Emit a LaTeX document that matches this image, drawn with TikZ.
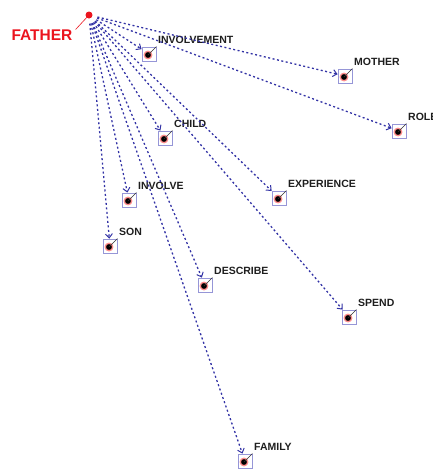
\documentclass[tikz,border=0pt]{standalone}
\usepackage{fontspec}
\setmainfont{Liberation Sans}
\usetikzlibrary{arrows.meta}
\definecolor{edgeblue}{RGB}{50,50,165}
\definecolor{boxlav}{RGB}{150,150,215}
\definecolor{lbltext}{RGB}{30,30,30}
\definecolor{fred}{RGB}{235,20,30}
\newcommand\tnode[4]{%
  \node[tbox] (#1) at (#2,#3) {};
  \node[tdot] (#1d) at (#2-1,#3+1) {};
  \draw[line width=0.5pt, black!80] (#1d.center) -- (#1.north east);
  \node[lbl] (#1l) at (#2+9,#3-14) {#4};
}
\begin{document}
\begin{tikzpicture}[x=1pt,y=-1pt,
  lbl/.style={font=\bfseries\fontsize{10.5}{12}\selectfont, text=lbltext, anchor=west, inner sep=0pt},
  tbox/.style={draw=boxlav, line width=0.8pt, minimum size=14pt, inner sep=0pt, fill=white},
  tdot/.style={circle, fill=black, draw=red!45, line width=1.3pt, minimum size=7.5pt, inner sep=0pt},
  link/.style={draw=edgeblue, line width=1.3pt, dash pattern=on 2pt off 2.5pt, -{Straight Barb[length=4pt,width=7pt,line width=1pt]}, shorten <=5pt},
]
\useasboundingbox (0,0) rectangle (433,469);
% father
\node[circle, fill=fred, inner sep=0pt, minimum size=7pt] (father) at (89,15) {};
\node[font=\bfseries\fontsize{15.5}{17}\selectfont, text=fred, inner sep=0pt] (fatherl) at (42,35) {FATHER};
\draw[fred, line width=0.6pt] (father.center) -- ([xshift=3pt]fatherl.north east);
% targets
\tnode{involvement}{149}{54}{INVOLVEMENT}
\tnode{mother}{345}{76}{MOTHER}
\tnode{role}{399}{131}{ROLE}
\tnode{child}{165}{138}{CHILD}
\tnode{experience}{279}{198}{EXPERIENCE}
\tnode{involve}{129}{200}{INVOLVE}
\tnode{son}{110}{246}{SON}
\tnode{describe}{205}{285}{DESCRIBE}
\tnode{spend}{349}{317}{SPEND}
\tnode{family}{245}{461}{FAMILY}
% edges
\foreach \t in {involvement,mother,role,child,experience,involve,son,describe,spend,family}
  \draw[link] (father) -- (\t);
\end{tikzpicture}
\end{document}
